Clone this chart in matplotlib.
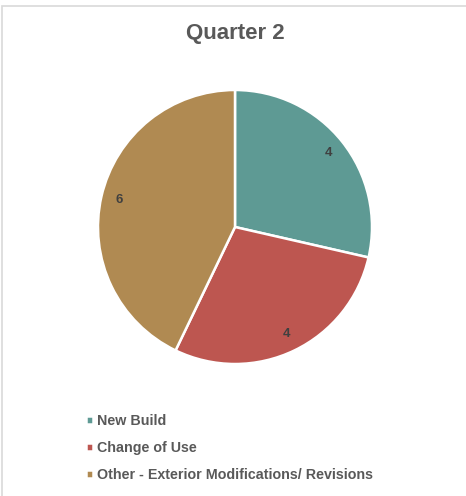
import matplotlib.pyplot as plt
from matplotlib.patches import Rectangle

# donnees
categories = ["New Build", "Change of Use", "Other - Exterior Modifications/ Revisions"]
valeurs = [4, 4, 6]
couleurs = ["#5E9A94", "#BD5650", "#B08A52"]
titre = "Quarter 2"

W, H = 466, 496
fig = plt.figure(figsize=(W / 100, H / 100), dpi=100)
fig.patch.set_facecolor("white")

# bordure du graphique (gris clair)
fig.add_artist(Rectangle((1.5 / W, -0.01), 1.1, 1 - 5.5 / H + 0.01,
                         transform=fig.transFigure, fill=False,
                         edgecolor="#D9D9D9", linewidth=1.2))

cx, cy, r = 235, 227, 137
ax = fig.add_axes([(cx - r) / W, (H - cy - r) / H, 2 * r / W, 2 * r / H])
wedges, textes = ax.pie(valeurs, colors=couleurs, startangle=90, counterclock=False,
                        radius=1, labels=[str(v) for v in valeurs], labeldistance=0.87,
                        wedgeprops=dict(edgecolor="white", linewidth=1.8))
for t in textes:
    t.set_fontsize(9.5)
    t.set_fontweight("bold")
    t.set_fontfamily("Liberation Sans")
    t.set_color("#404040")
    t.set_ha("center")
    t.set_va("center")
ax.set_xlim(-1, 1)
ax.set_ylim(-1, 1)
ax.set_aspect("equal")
ax.axis("off")

fig.text(cx / W, 1 - 33 / H, titre, ha="center", va="center", fontsize=16,
         color="#595959", fontfamily="Liberation Sans", fontweight="bold")

leg = fig.legend(wedges, categories, loc="upper left", bbox_to_anchor=(73 / W, 1 - 401 / H),
                 frameon=False, handlelength=0.5, handleheight=0.45, handletextpad=0.3,
                 labelspacing=0.92, prop=dict(family="Liberation Sans", weight="bold", size=10.3))
for t in leg.get_texts():
    t.set_color("#595959")

fig.savefig("out.png", dpi=100, facecolor="white")
plt.close(fig)
